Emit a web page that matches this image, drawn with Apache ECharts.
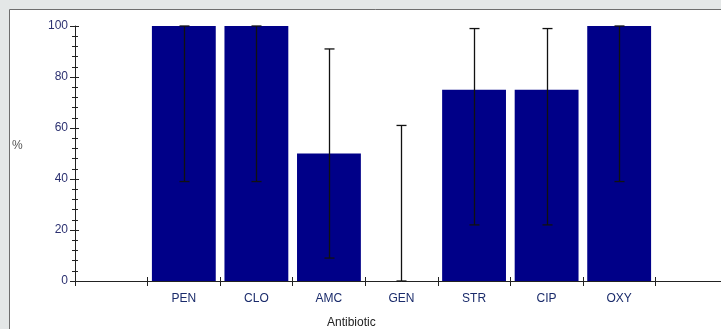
<!DOCTYPE html>
<html><head><meta charset="utf-8">
<script src="https://cdn.jsdelivr.net/npm/echarts@6/dist/echarts.min.js"></script>
<style>html,body{margin:0;padding:0;background:#e4e7e7;overflow:hidden;}#c{width:740px;height:329px;}</style>
</head><body><div id="c"></div>
<script>
const categories = ['', 'PEN', 'CLO', 'AMC', 'GEN', 'STR', 'CIP', 'OXY', ''];
const values = [null, 100, 100, 50, 0, 75, 75, 100, null];
const errLow = [null, 39, 39, 9, 0, 22, 22, 39, null];
const errHigh = [null, 100, 100, 91, 61, 99, 99, 100, null];
const yTicks = [0, 20, 40, 60, 80, 100];

const errData = [];
for (let i = 0; i < categories.length; i++) {
  if (errLow[i] != null) errData.push([i, errLow[i], errHigh[i]]);
}

const chart = echarts.init(document.getElementById('c'), null, {renderer: 'canvas'});
const gridBox = {left: 75, top: 26, width: 653, height: 255};
const labelFont = {fontFamily: 'Liberation Sans, Arial, sans-serif', fontSize: 12};
chart.setOption({
  backgroundColor: '#e4e7e7',
  animation: false,
  graphic: [
    {type: 'rect', z: -10, shape: {x: 9.5, y: 9.5, width: 800, height: 400},
     style: {fill: '#ffffff', stroke: '#6e6e6e', lineWidth: 1}},
    {type: 'text', left: 12, top: 140, style: {text: '%', fill: '#555', font: '12px Liberation Sans, Arial'}},
    {type: 'text', left: 327, top: 317, style: {text: 'Antibiotic', fill: '#222', font: '12px Liberation Sans, Arial'}}
  ],
  grid: gridBox,
  xAxis: [{
    type: 'category', data: categories, boundaryGap: true,
    axisLine: {lineStyle: {color: '#222', width: 1}},
    axisTick: {show: true, length: 5, alignWithLabel: false, lineStyle: {color: '#222'}},
    axisLabel: Object.assign({color: '#1a2b6b', margin: 12, interval: 0}, labelFont),
    splitLine: {show: false}
  }, {
    type: 'category', data: categories, boundaryGap: true, position: 'bottom',
    axisLine: {show: false},
    axisTick: {show: true, inside: true, length: 4, alignWithLabel: false, lineStyle: {color: '#222'}},
    axisLabel: {show: false}, splitLine: {show: false}
  }],
  yAxis: [{
    type: 'value', min: 0, max: 100, interval: 20,
    axisLine: {show: true, lineStyle: {color: '#222'}},
    axisTick: {show: true, length: 5, lineStyle: {color: '#222'}},
    minorTick: {show: true, splitNumber: 5, length: 3, lineStyle: {color: '#222'}},
    axisLabel: Object.assign({color: '#2b3070', margin: 7,
      formatter: v => yTicks.includes(v) ? String(v) : ''}, labelFont),
    splitLine: {show: false}
  }, {
    type: 'value', min: 0, max: 100, interval: 20, position: 'left',
    axisLine: {show: false},
    axisTick: {show: true, inside: true, length: 4, lineStyle: {color: '#222'}},
    minorTick: {show: true, splitNumber: 5, length: 3, lineStyle: {color: '#222'}},
    axisLabel: {show: false}, splitLine: {show: false}
  }],
  series: [{
    type: 'bar', data: values, barCategoryGap: '12%',
    itemStyle: {color: '#000088'},
    z: 2
  }, {
    type: 'custom', data: errData, z: 5,
    renderItem: function (params, api) {
      const x = api.value(0);
      const lo = api.coord([x, api.value(1)]);
      const hi = api.coord([x, api.value(2)]);
      const cx = Math.round(lo[0]) + 0.5;
      const cap = 5;
      const st = {stroke: '#111', lineWidth: 1.3};
      return {type: 'group', children: [
        {type: 'line', shape: {x1: cx, y1: hi[1], x2: cx, y2: lo[1]}, style: st},
        {type: 'line', shape: {x1: cx - cap, y1: hi[1], x2: cx + cap, y2: hi[1]}, style: st},
        {type: 'line', shape: {x1: cx - cap, y1: lo[1], x2: cx + cap, y2: lo[1]}, style: st}
      ]};
    }
  }]
});
</script></body></html>
